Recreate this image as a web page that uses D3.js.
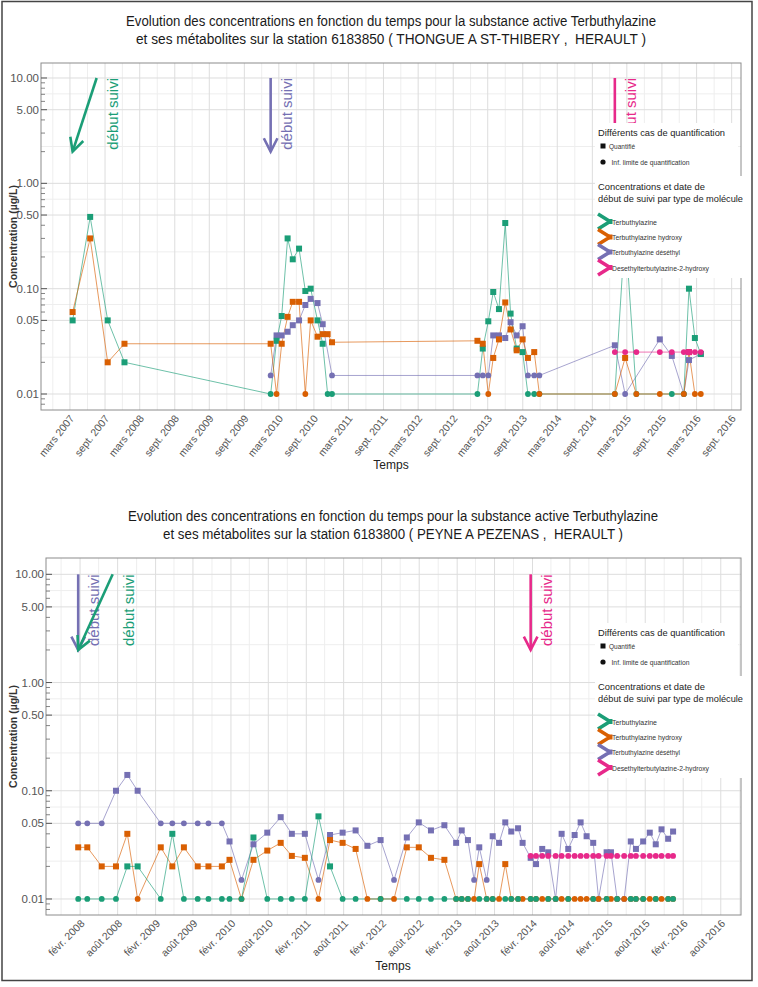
<!DOCTYPE html>
<html><head><meta charset="utf-8">
<script src="https://cdn.jsdelivr.net/npm/d3@7"></script>
<style>body{margin:0;background:#fff;} svg{display:block;font-family:"Liberation Sans",Arial,sans-serif;} text{white-space:pre;}</style>
</head><body><svg id="c" width="758" height="987"></svg>
<script>
// ---------------- DATA ----------------
const seriesNames = ["Terbuthylazine","Terbuthylazine hydroxy","Terbuthylazine déséthyl","Desethylterbutylazine-2-hydroxy"];
const seriesColors = ["#1b9e77","#d95f02","#7570b3","#e7298a"];
const yTickValues = [10,5,1,0.5,0.1,0.05,0.01];
const yTickLabels = ["10.00","5.00","1.00","0.50","0.10","0.05","0.01"];
// "<x" = inférieur à la limite de quantification (plotted at x, circle)

const topTitle = ["Evolution des concentrations en fonction du temps pour la substance active Terbuthylazine",
  "et ses métabolites sur la station 6183850 ( THONGUE A ST-THIBERY ,  HERAULT )"];
const topTickLabels = ["mars 2007","sept. 2007","mars 2008","sept. 2008","mars 2009","sept. 2009","mars 2010","sept. 2010",
  "mars 2011","sept. 2011","mars 2012","sept. 2012","mars 2013","sept. 2013","mars 2014","sept. 2014","mars 2015","sept. 2015","mars 2016","sept. 2016"];
const topDates = ["2007-03-15","2007-06-15","2007-09-15","2007-12-12",
  "2010-01-17","2010-02-17","2010-03-16","2010-04-16","2010-05-13","2010-06-15","2010-07-18","2010-08-15","2010-09-20","2010-10-17","2010-11-12","2010-12-05",
  "2013-01-06","2013-02-03","2013-03-04","2013-03-30","2013-04-29","2013-06-01","2013-06-29","2013-07-31","2013-08-31","2013-09-28","2013-10-31","2013-11-27",
  "2014-12-28","2015-02-20","2015-04-20","2015-08-21","2015-10-23","2015-12-25","2016-01-21","2016-02-21","2016-03-23"];
const topTerbuthylazine = [0.05,0.48,0.05,0.02,
  "<0.01",0.032,0.055,0.30,0.19,0.24,0.095,0.10,0.05,0.03,"<0.01","<0.01",
  "<0.01",0.027,0.049,0.093,0.064,0.42,0.058,0.027,0.025,"<0.01","<0.01","<0.01",
  "<0.01",0.37,"<0.01",null,"<0.01","<0.01",0.10,0.034,0.024];
const topHydroxy = [0.06,0.30,0.02,0.03,
  0.03,"<0.01",0.03,0.054,0.075,0.075,"<0.01",0.05,0.035,0.037,0.037,0.031,
  0.032,0.030,"<0.01",0.022,0.033,0.074,0.041,0.026,0.033,0.022,0.025,"<0.01",
  "<0.01",0.022,"<0.01","<0.01",null,"<0.01",0.025,"<0.01","<0.01"];
const topDesethyl = [null,null,null,null,
  "<0.015",0.036,0.036,0.039,0.045,0.050,0.070,0.080,0.073,0.046,null,"<0.015",
  "<0.015","<0.015","<0.015",0.036,0.036,0.034,0.048,0.036,0.044,"<0.015","<0.015","<0.015",
  0.029,"<0.01",null,0.033,0.023,"<0.01",0.021,null,0.024];
const topDesethylHydroxy = [null,null,null,null,
  null,null,null,null,null,null,null,null,null,null,null,null,
  null,null,null,null,null,null,null,null,null,null,null,null,
  "<0.025","<0.025","<0.025","<0.025","<0.025","<0.025",0.025,"<0.025","<0.025"];

const bottomTitle = ["Evolution des concentrations en fonction du temps pour la substance active Terbuthylazine",
  "et ses métabolites sur la station 6183800 ( PEYNE A PEZENAS ,  HERAULT )"];
const bottomTickLabels = ["févr. 2008","août 2008","févr. 2009","août 2009","févr. 2010","août 2010","févr. 2011","août 2011",
  "févr. 2012","août 2012","févr. 2013","août 2013","févr. 2014","août 2014","févr. 2015","août 2015","févr. 2016","août 2016"];
const bottomDates = ["2008-01-23","2008-03-07","2008-05-16","2008-07-24","2008-09-17","2008-11-06",
  "2009-02-26","2009-04-23","2009-06-18","2009-08-24","2009-10-15","2009-12-19",
  "2010-01-25","2010-03-24","2010-05-21","2010-07-27","2010-09-30","2010-11-23",
  "2011-01-25","2011-04-01","2011-05-27","2011-07-27","2011-09-28","2011-11-24",
  "2012-01-27","2012-04-01","2012-06-02","2012-07-30","2012-09-27","2012-12-01",
  "2013-01-27","2013-02-23","2013-03-25","2013-04-24","2013-05-19","2013-06-24",
  "2013-07-23","2013-08-23","2013-09-22","2013-10-21","2013-11-23","2013-12-15",
  "2014-01-23","2014-02-18","2014-03-20","2014-04-18","2014-05-24","2014-06-22",
  "2014-07-24","2014-08-24","2014-09-22","2014-10-21","2014-11-22","2014-12-18",
  "2015-01-26","2015-02-16","2015-03-18","2015-04-21","2015-05-23","2015-06-17",
  "2015-07-22","2015-08-23","2015-09-21","2015-10-19","2015-11-20","2015-12-14"];
const bottomTerbuthylazine = [
  "<0.01","<0.01","<0.01","<0.01",0.02,0.02,
  "<0.01",0.040,"<0.01","<0.01","<0.01","<0.01",
  "<0.01","<0.01",0.037,"<0.01","<0.01","<0.01",
  "<0.01",0.058,0.02,"<0.01","<0.01",null,
  "<0.01",null,"<0.01","<0.01","<0.01","<0.01",
  "<0.01","<0.01","<0.01",null,"<0.01","<0.01",
  "<0.01",null,"<0.01","<0.01","<0.01",null,
  "<0.01","<0.01",null,"<0.01","<0.01",null,
  "<0.01",null,null,null,"<0.01",null,
  "<0.01",null,"<0.01",null,"<0.01","<0.01",
  "<0.01",null,"<0.01",null,"<0.01","<0.01"];
const bottomHydroxy = [
  0.03,0.03,0.02,0.02,0.04,"<0.01",
  0.03,0.02,0.03,0.02,0.02,0.02,
  0.023,"<0.01",0.023,0.028,0.033,0.025,
  0.024,"<0.01",0.035,0.033,0.029,"<0.01",
  "<0.01","<0.01",0.030,0.030,0.024,0.023,
  "<0.01","<0.01","<0.01","<0.01",0.021,"<0.01",
  "<0.01","<0.01",0.021,"<0.01","<0.01","<0.01",
  "<0.01","<0.01","<0.01","<0.01","<0.01","<0.01",
  "<0.01","<0.01","<0.01","<0.01","<0.01","<0.01",
  "<0.01","<0.01","<0.01","<0.01","<0.01","<0.01",
  "<0.01","<0.01","<0.01","<0.01","<0.01","<0.01"];
const bottomDesethyl = [
  "<0.05","<0.05","<0.05",0.10,0.14,0.10,
  "<0.05","<0.05","<0.05","<0.05","<0.05","<0.05",
  0.034,"<0.015",0.032,0.041,0.057,0.040,
  0.040,"<0.015",0.039,0.041,0.043,0.031,
  0.035,"<0.015",0.037,0.051,0.043,0.048,
  0.033,0.043,0.035,"<0.015",0.030,"<0.015",
  0.038,0.033,0.051,0.042,0.045,0.033,
  0.024,0.021,0.029,0.027,"<0.01",0.040,
  0.029,0.039,0.051,0.038,0.033,"<0.01",
  0.027,0.027,"<0.01","<0.01",0.034,0.029,
  0.034,0.041,0.032,0.044,0.036,0.042];
const bottomDesethylHydroxy = [
  null,null,null,null,null,null, null,null,null,null,null,null,
  null,null,null,null,null,null, null,null,null,null,null,null,
  null,null,null,null,null,null, null,null,null,null,null,null,
  null,null,null,null,null,null,
  "<0.025","<0.025","<0.025","<0.025","<0.025","<0.025",
  "<0.025","<0.025","<0.025","<0.025","<0.025","<0.025",
  "<0.025","<0.025","<0.025","<0.025","<0.025","<0.025",
  "<0.025","<0.025","<0.025","<0.025","<0.025","<0.025"];

// ---------------- DRAWING ----------------
const svg = d3.select("#c");
const parse = d3.timeParse("%Y-%m-%d");

svg.append("rect").attr("width",758).attr("height",987).attr("fill","#fff");

function parseVal(v){
  if(v===null||v===undefined) return null;
  if(typeof v==="string") return {v:+v.replace("<",""), q:false};
  return {v:v, q:true};
}

function drawChart(cfg){
  const g = svg.append("g");
  const P = cfg.panel;
  const x = d3.scaleTime().domain(cfg.domain.map(parse)).range([P.x0,P.x1]);
  const y = d3.scaleLog().domain(cfg.yDomain).range([P.y1,P.y0]);

  cfg.title.forEach((t,i)=>{
    g.append("text").attr("x",cfg.titleX).attr("y",cfg.titleY[i]).attr("text-anchor","middle")
      .attr("font-size",14).attr("fill","#1a1a1a")
      .attr("textLength",cfg.titleWidths[i]).attr("lengthAdjust","spacingAndGlyphs").text(t);
  });

  g.append("rect").attr("x",P.x0).attr("y",P.y0).attr("width",P.x1-P.x0).attr("height",P.y1-P.y0).attr("fill","#fff");

  const first = parse(cfg.firstTick);
  const majors = cfg.tickLabels.map((l,i)=>d3.timeMonth.offset(first,6*i));
  const dom = x.domain();
  const minors = d3.range(-8,60).map(k=>d3.timeMonth.offset(first,6*k+3)).filter(d=>d>dom[0]&&d<dom[1]);
  const extraMaj = d3.range(-3,0).map(k=>d3.timeMonth.offset(first,6*k)).filter(d=>d>dom[0]);
  const minorY = [];
  for(let i=0;i<yTickValues.length-1;i++) minorY.push(Math.sqrt(yTickValues[i]*yTickValues[i+1]));
  const grid = g.append("g");
  grid.selectAll(".vm").data(minors).join("line").attr("x1",d=>x(d)).attr("x2",d=>x(d)).attr("y1",P.y0).attr("y2",P.y1)
    .attr("stroke","#eeeeee").attr("stroke-width",1);
  grid.selectAll(".hm").data(minorY).join("line").attr("x1",P.x0).attr("x2",P.x1).attr("y1",d=>y(d)).attr("y2",d=>y(d))
    .attr("stroke","#eeeeee").attr("stroke-width",1);
  grid.selectAll(".vM").data(majors.concat(extraMaj)).join("line").attr("x1",d=>x(d)).attr("x2",d=>x(d)).attr("y1",P.y0).attr("y2",P.y1)
    .attr("stroke","#dddddd").attr("stroke-width",1);
  grid.selectAll(".hM").data(yTickValues).join("line").attr("x1",P.x0).attr("x2",P.x1).attr("y1",d=>y(d)).attr("y2",d=>y(d))
    .attr("stroke","#dddddd").attr("stroke-width",1);

  g.append("rect").attr("x",P.x0).attr("y",P.y0).attr("width",P.x1-P.x0).attr("height",P.y1-P.y0)
    .attr("fill","none").attr("stroke","#8c8c8c").attr("stroke-width",1);

  const minorTicks = [];
  [-3,-2,-1,0,1].forEach(e=>{ for(let k=2;k<=9;k++){ const v=k*Math.pow(10,e); if(v>cfg.yDomain[0]&&v<cfg.yDomain[1]&&k!==5) minorTicks.push(v);} });
  g.selectAll(".mt").data(minorTicks).join("line").attr("x1",P.x0).attr("x2",P.x0+4).attr("y1",d=>y(d)).attr("y2",d=>y(d))
    .attr("stroke","#666").attr("stroke-width",0.8);
  g.selectAll(".Mt").data(yTickValues).join("line").attr("x1",P.x0).attr("x2",P.x0+6).attr("y1",d=>y(d)).attr("y2",d=>y(d))
    .attr("stroke","#555").attr("stroke-width",1);
  g.selectAll(".yl").data(yTickValues).join("text").attr("x",P.x0-2).attr("y",d=>y(d)).attr("dy","0.35em")
    .attr("text-anchor","end").attr("font-size",11.5).attr("fill","#555").text((d,i)=>yTickLabels[i]);
  g.append("text").attr("transform",`translate(17,${(P.y0+P.y1)/2}) rotate(-90)`).attr("text-anchor","middle")
    .attr("font-size",10.5).attr("font-weight","bold").attr("fill","#333").text("Concentration (µg/L)");

  g.selectAll(".xl").data(majors).join("text")
    .attr("transform",d=>`translate(${x(d)+cfg.xLabelDx},${P.y1+cfg.xLabelDy}) rotate(${-cfg.xLabelAngle})`)
    .attr("dy","0.7em").attr("text-anchor","end").attr("font-size",10.5).attr("fill","#555")
    .text((d,i)=>cfg.tickLabels[i]);
  g.append("text").attr("x",cfg.titleX).attr("y",cfg.xTitleY).attr("text-anchor","middle").attr("font-size",12)
    .attr("fill","#222").text("Temps");

  const series = cfg.series.map((arr,si)=>arr.map((v,j)=>{const p=parseVal(v); return p?{date:parse(cfg.dates[j]),v:p.v,q:p.q}:null;}).filter(d=>d));

  cfg.arrows.forEach(a=>{
    const pts = series[a.series];
    const d0 = pts[0].date;
    const xt = x(d0), yt = y(2);
    const xs = x(d3.timeDay.offset(d0,a.shiftDays)), ys = y(10);
    const col = seriesColors[a.series];
    const th = Math.atan2(yt-ys, xt-xs), L=15, ph=27*Math.PI/180;
    g.append("line").attr("x1",xs).attr("y1",ys).attr("x2",xt).attr("y2",yt).attr("stroke",col).attr("stroke-width",2.6);
    g.append("path").attr("d",`M${xt-L*Math.cos(th-ph)},${yt-L*Math.sin(th-ph)}L${xt},${yt}L${xt-L*Math.cos(th+ph)},${yt-L*Math.sin(th+ph)}`)
      .attr("fill","none").attr("stroke",col).attr("stroke-width",2.6);
    g.append("text").attr("transform",`translate(${xs+21},${ys}) rotate(-90)`).attr("text-anchor","end")
      .attr("font-size",15).attr("fill",col).text("début suivi");
  });

  const line = d3.line().x(d=>x(d.date)).y(d=>y(d.v));
  cfg.order.forEach(si=>{
    g.append("path").attr("d",line(series[si])).attr("fill","none").attr("stroke",seriesColors[si])
      .attr("stroke-width",0.8).attr("stroke-opacity",0.8);
  });
  cfg.order.forEach(si=>{
    const pg = g.append("g").attr("fill",seriesColors[si]);
    pg.selectAll("rect").data(series[si].filter(d=>d.q)).join("rect")
      .attr("x",d=>x(d.date)-3).attr("y",d=>y(d.v)-3).attr("width",6).attr("height",6);
    pg.selectAll("circle").data(series[si].filter(d=>!d.q)).join("circle")
      .attr("cx",d=>x(d.date)).attr("cy",d=>y(d.v)).attr("r",2.9);
  });

  const L = cfg.legendTop;
  g.append("rect").attr("x",595).attr("y",L).attr("width",143).attr("height",53).attr("fill","#fff");
  g.append("rect").attr("x",595).attr("y",L+53).attr("width",158).attr("height",102).attr("fill","#fff");
  g.append("text").attr("x",598).attr("y",L+12.5).attr("font-size",9.5).attr("fill","#222")
    .attr("textLength",127).attr("lengthAdjust","spacingAndGlyphs").text("Différents cas de quantification");
  g.append("rect").attr("x",600.5).attr("y",L+20.5).attr("width",5).attr("height",5).attr("fill","#111");
  g.append("text").attr("x",609).attr("y",L+25.5).attr("font-size",6.5).attr("fill","#333").text("Quantifié");
  g.append("circle").attr("cx",603).attr("cy",L+39).attr("r",2.6).attr("fill","#111");
  g.append("text").attr("x",611.5).attr("y",L+41.5).attr("font-size",6.5).attr("fill","#333")
    .attr("textLength",78).attr("lengthAdjust","spacingAndGlyphs").text("Inf. limite de quantification");
  g.append("text").attr("x",598).attr("y",L+67).attr("font-size",9.5).attr("fill","#222")
    .attr("textLength",107).attr("lengthAdjust","spacingAndGlyphs").text("Concentrations et date de");
  g.append("text").attr("x",598).attr("y",L+79).attr("font-size",9.5).attr("fill","#222")
    .attr("textLength",145).attr("lengthAdjust","spacingAndGlyphs").text("début de suivi par type de molécule");
  const itemY = [L+101.5,L+117,L+132,L+147.5];
  const itemW = [45,70,68,97];
  seriesNames.forEach((n,i)=>{
    const yy = itemY[i]-3;
    g.append("path").attr("d",`M598,${yy-7.5}L610,${yy}L598,${yy+7.5}`).attr("fill","none")
      .attr("stroke",seriesColors[i]).attr("stroke-width",3.6).attr("stroke-linejoin","round");
    g.append("rect").attr("x",607.5).attr("y",yy-2.5).attr("width",5).attr("height",5).attr("fill",seriesColors[i]);
    g.append("text").attr("x",612).attr("y",itemY[i]).attr("font-size",6.5).attr("fill","#333")
      .attr("textLength",itemW[i]).attr("lengthAdjust","spacingAndGlyphs").text(n);
  });
}

drawChart({
  title: topTitle, titleX: 391, titleY: [26,44], titleWidths: [530,510],
  dates: topDates, series: [topTerbuthylazine, topHydroxy, topDesethyl, topDesethylHydroxy],
  tickLabels: topTickLabels, firstTick: "2007-03-01",
  domain: ["2006-09-30","2016-10-20"], yDomain: [0.00705, 13.88],
  panel: {x0:41, x1:741, y0:63, y1:410},
  xLabelAngle: 52, xLabelDx: -1, xLabelDy: 4, xTitleY: 469,
  legendTop: 123, order: [2,0,1,3],
  arrows: [{series:0, shiftDays:126},{series:2, shiftDays:0},{series:3, shiftDays:0}]
});
drawChart({
  title: bottomTitle, titleX: 393, titleY: [521,539], titleWidths: [530,460],
  dates: bottomDates, series: [bottomTerbuthylazine, bottomHydroxy, bottomDesethyl, bottomDesethylHydroxy],
  tickLabels: bottomTickLabels, firstTick: "2008-02-01",
  domain: ["2007-08-20","2016-11-07"], yDomain: [0.00711, 14.15],
  panel: {x0:46, x1:741, y0:558, y1:915},
  xLabelAngle: 45, xLabelDx: 0, xLabelDy: 4, xTitleY: 970,
  legendTop: 623, order: [2,1,0,3],
  arrows: [{series:2, shiftDays:0},{series:0, shiftDays:167},{series:3, shiftDays:0}]
});

svg.append("rect").attr("x",2).attr("y",1.5).attr("width",750).attr("height",979).attr("fill","none")
  .attr("stroke","#444").attr("stroke-width",1.5);
</script></body></html>
